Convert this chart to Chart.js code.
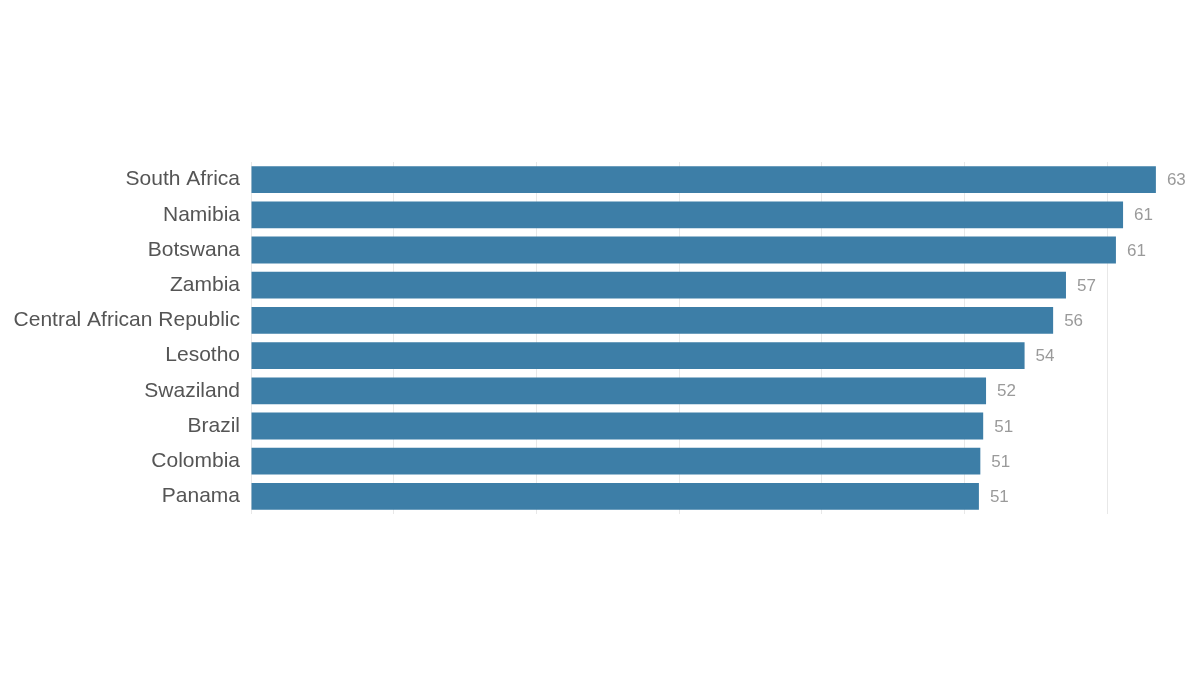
<!DOCTYPE html>
<html>
<head>
<meta charset="utf-8">
<script src="https://cdn.jsdelivr.net/npm/chart.js@4/dist/chart.umd.min.js"></script>
<style>
  html, body { margin: 0; padding: 0; background: #fff; }
  #wrap { width: 1200px; height: 675px; }
</style>
</head>
<body>
<div id="wrap"><canvas id="chart"></canvas></div>
<script>
// ---------------- DATA ----------------
const countries = [
  'South Africa', 'Namibia', 'Botswana', 'Zambia', 'Central African Republic',
  'Lesotho', 'Swaziland', 'Brazil', 'Colombia', 'Panama'
];
const values = [63.4, 61.1, 60.6, 57.1, 56.2, 54.2, 51.5, 51.3, 51.1, 51.0];
const xTicks = [0, 10, 20, 30, 40, 50, 60];

const FONT = '"Liberation Sans", Arial, Helvetica, sans-serif';

// -------- VALUE LABELS --------
const valueLabels = {
  id: 'valueLabels',
  afterDatasetsDraw(chart) {
    const ctx = chart.ctx;
    const meta = chart.getDatasetMeta(0);
    ctx.save();
    ctx.font = '17px ' + FONT;
    ctx.fillStyle = '#9a9a9a';
    ctx.textAlign = 'left';
    ctx.textBaseline = 'middle';
    meta.data.forEach((bar, i) => {
      ctx.fillText(String(Math.round(values[i])), bar.x + 11, bar.y + 1);
    });
    ctx.restore();
  }
};

new Chart(document.getElementById('chart'), {
  type: 'bar',
  data: {
    labels: countries,
    datasets: [{
      data: values,
      backgroundColor: '#3d7ea7',
      borderWidth: 0,
      barPercentage: 0.76,
      categoryPercentage: 1
    }]
  },
  options: {
    indexAxis: 'y',
    responsive: true,
    maintainAspectRatio: false,
    animation: false,
    layout: { padding: { top: 162, bottom: 161, left: 0, right: 7 } },
    plugins: {
      legend: { display: false },
      tooltip: { enabled: false }
    },
    scales: {
      x: {
        min: 0,
        max: 66,
        afterBuildTicks: s => { s.ticks = xTicks.map(v => ({ value: v })); },
        afterFit: s => { s.height = 0; },
        ticks: { display: false, includeBounds: false },
        grid: { color: '#e8e8e8', lineWidth: 1, drawTicks: false },
        border: { display: false }
      },
      y: {
        afterFit: s => { s.width = 251; },
        grid: { display: false, drawTicks: false },
        border: { display: false },
        ticks: {
          color: '#555',
          padding: 11,
          font: { family: FONT, size: 21 }
        }
      }
    }
  },
  plugins: [valueLabels]
});
</script>
</body>
</html>
